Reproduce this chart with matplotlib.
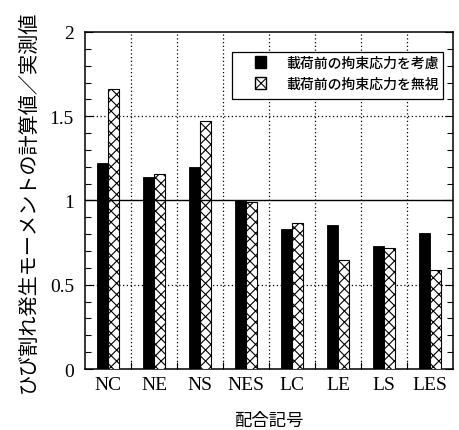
"""
ひび割れ発生モーメントの計算値／実測値
配合別の比較（拘束応力の考慮の有無）
"""

import matplotlib.pyplot as plt
import numpy as np
from matplotlib.patches import Patch, Rectangle
from matplotlib.ticker import MultipleLocator, FixedLocator

JP_FONT = ['Noto Sans CJK JP', 'DejaVu Sans']
NUM_FONT = ['Liberation Serif', 'DejaVu Serif']

plt.rcParams.update({
    'font.family': JP_FONT,
    'hatch.linewidth': 0.8,
    'figure.dpi': 100,
})

# 配合ごとの計算値／実測値
mixes = ['NC', 'NE', 'NS', 'NES', 'LC', 'LE', 'LS', 'LES']
ratio_considered = [1.22, 1.14, 1.20, 1.00, 0.83, 0.855, 0.73, 0.805]
ratio_ignored = [1.66, 1.16, 1.47, 0.99, 0.865, 0.645, 0.72, 0.585]

label_considered = '載荷前の拘束応力を考慮'
label_ignored = '載荷前の拘束応力を無視'

fig = plt.figure(figsize=(4.6, 4.31))
ax = fig.add_axes([0.1848, 0.1415, 0.8, 0.782])

x = np.arange(len(mixes))
w = 0.235

ax.bar(x - w / 2 - 0.005, ratio_considered, width=w, color='black',
       edgecolor='black', linewidth=0.6, zorder=3)
ax.bar(x + w / 2 - 0.005, ratio_ignored, width=w, color='white',
       edgecolor='black', hatch='xxx', linewidth=0.8, zorder=3)

# 補助線
for b in np.arange(0.5, len(mixes) - 0.5, 1.0):
    ax.axvline(b, color='black', linestyle=(0, (1, 2)), linewidth=0.9, zorder=1)
for yv in (0.5, 1.5):
    ax.axhline(yv, color='black', linestyle=(0, (1, 2)), linewidth=0.9, zorder=1)
ax.axhline(1.0, color='black', linewidth=1.0, zorder=4)

ax.set_xlim(-0.5, len(mixes) - 0.5)
ax.set_ylim(0, 2)
ax.set_xticks(x)
ax.set_xticklabels(mixes, family=NUM_FONT, fontsize=14)
ax.xaxis.set_minor_locator(FixedLocator(np.arange(0.5, len(mixes) - 0.5, 1.0)))
ax.tick_params(axis='x', which='major', length=0, pad=5)
ax.tick_params(axis='x', which='minor', direction='in', length=5, width=0.8)

ax.yaxis.set_major_locator(MultipleLocator(0.5))
ax.yaxis.set_minor_locator(MultipleLocator(0.1))
ax.set_yticks([0, 0.5, 1, 1.5, 2])
ax.set_yticklabels(['0', '0.5', '1', '1.5', '2'], family=NUM_FONT, fontsize=14)
ax.tick_params(axis='y', which='both', direction='in', right=True, width=0.8)
ax.tick_params(axis='y', which='major', length=6, pad=8)
ax.tick_params(axis='y', which='minor', length=4)

for s in ax.spines.values():
    s.set_linewidth(1.1)

ax.set_ylabel('ひび割れ発生モーメントの計算値／実測値', fontsize=14.5, labelpad=8)
ax.set_xlabel('配合記号', fontsize=12.5, labelpad=13)

# 凡例（枠は別に描く）
ax.add_patch(Rectangle((0.400, 0.801), 0.573, 0.140, transform=ax.transAxes,
                       facecolor='white', edgecolor='black', linewidth=0.9,
                       zorder=5))
handles = [Patch(facecolor='black', edgecolor='black', label=label_considered),
           Patch(facecolor='white', edgecolor='black', hatch='xxx', label=label_ignored)]
leg = ax.legend(handles=handles, loc='upper right', bbox_to_anchor=(0.968, 0.937),
                prop={'family': JP_FONT, 'size': 10, 'weight': 'medium'},
                frameon=False, handlelength=0.85, handleheight=1.0,
                handletextpad=1.4, borderpad=0.2, labelspacing=0.5,
                borderaxespad=0)
leg.set_zorder(6)

plt.savefig('out.png', dpi=100)
plt.close()
